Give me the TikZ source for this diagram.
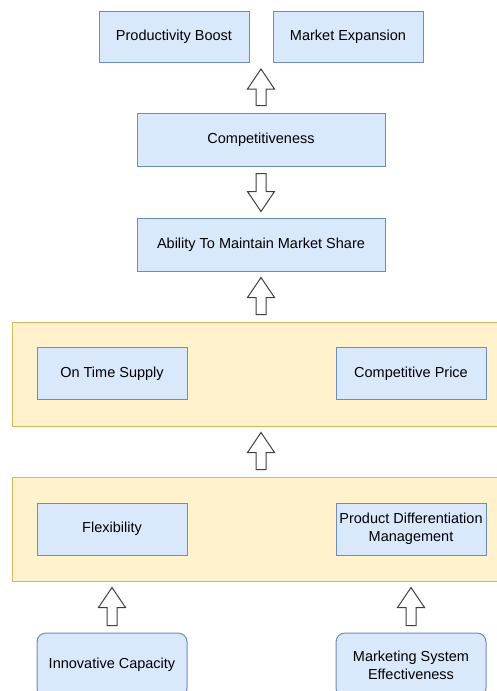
\documentclass[tikz,border=0pt]{standalone}
\usepackage{fontspec}
\setmainfont{Liberation Sans}
\usetikzlibrary{calc}
\definecolor{boxfill}{HTML}{DAE8FC}
\definecolor{boxline}{HTML}{6C8EBF}
\definecolor{panelfill}{HTML}{FFF2CC}
\definecolor{panelline}{HTML}{D6B656}
% hollow block arrow from #1 to #2
\newcommand{\hollowarrow}[2]{%
  \path ($(#1)!7pt!(#2)$) coordinate (ha-s) ($(#2)!6pt!(#1)$) coordinate (ha-t)
        ($(ha-t)!20pt!(ha-s)$) coordinate (ha-h);
  \draw[hollow] ($(ha-s)+(-5pt,0)$) -- ($(ha-h)+(-5pt,0)$) -- ($(ha-h)+(-13.5pt,0)$)
    -- (ha-t) -- ($(ha-h)+(13.5pt,0)$) -- ($(ha-h)+(5pt,0)$) -- ($(ha-s)+(5pt,0)$) -- cycle;}

\begin{document}
\begin{tikzpicture}[x=1pt,y=-1pt]
    \tikzstyle{box}=[draw=boxline,fill=boxfill,line width=1pt,inner sep=0pt,align=center,
      minimum width=150pt,minimum height=52pt,font=\fontsize{14.5}{18}\selectfont]
    \tikzstyle{wide}=[box,minimum width=248pt,minimum height=53pt]
    \tikzstyle{round}=[box,rounded corners=9pt,minimum height=64pt]
    \tikzstyle{panel}=[draw=panelline,fill=panelfill,line width=1pt,minimum width=498pt,minimum height=104pt]
    \tikzstyle{hollow}=[draw=black!75,fill=white,line width=1pt,line join=miter]
    \clip (0,0) rectangle (497,691);
    \fill[white] (0,0) rectangle (497,691);
    \draw (261,374) node[panel] (yt) {};
    \draw (261,529) node[panel] (yb) {};
    \draw (174,37) node[box,minimum height=51pt] (pb) {Productivity Boost};
    \draw (348,37) node[box,minimum height=51pt] (me) {Market Expansion};
    \draw (261,139.5) node[wide] (comp) {Competitiveness};
    \draw (261,244.5) node[wide] (ab) {Ability To Maintain Market Share};
    \draw (112,373.5) node[box] (ots) {On Time Supply};
    \draw (411,373.5) node[box] (cp) {Competitive Price};
    \draw (112,529) node[box] (flex) {Flexibility};
    \draw (411,529) node[box] (pdm) {Product Differentiation\\Management};
    \draw (112,665) node[round] (ic) {Innovative Capacity};
    \draw (411,665) node[round] (mse) {Marketing System\\Effectiveness};
    \coordinate (pbgap) at (comp.north |- pb.south);
    \coordinate (icgap) at (ic.north |- yb.south);
    \coordinate (msegap) at (mse.north |- yb.south);
    \hollowarrow{comp.north}{pbgap}
    \hollowarrow{comp.south}{ab.north}
    \hollowarrow{yt.north}{ab.south}
    \hollowarrow{yb.north}{yt.south}
    \hollowarrow{ic.north}{icgap}
    \hollowarrow{mse.north}{msegap}
\end{tikzpicture}
\end{document}
